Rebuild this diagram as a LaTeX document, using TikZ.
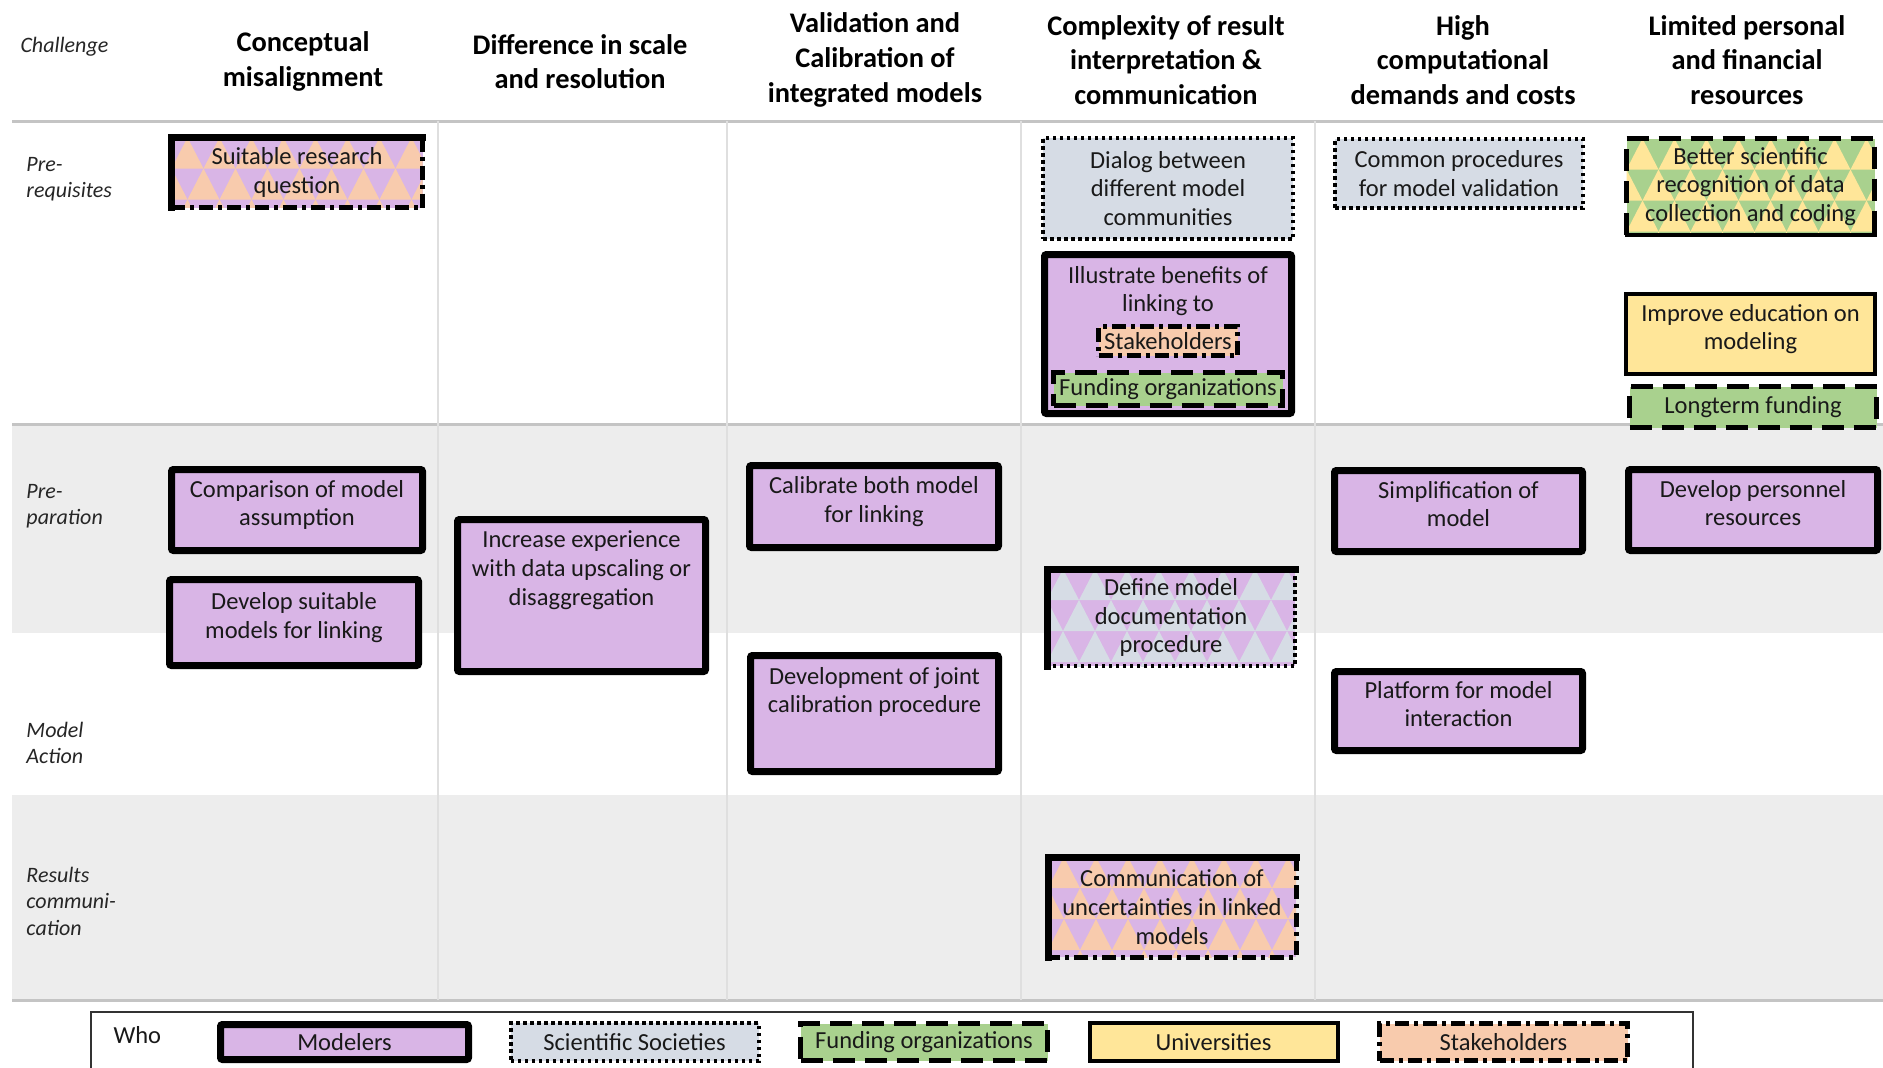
\documentclass[tikz,border=0pt]{standalone}
\usepackage{fontspec}
\setmainfont{Carlito}
\usetikzlibrary{positioning,calc}

\definecolor{modpurple}{HTML}{D9B5E6}
\definecolor{socgray}{HTML}{D6DCE5}
\definecolor{fundgreen}{HTML}{A9D18E}
\definecolor{univyellow}{HTML}{FFE699}
\definecolor{stakepeach}{HTML}{F8CBAD}
\definecolor{bandgray}{HTML}{EDEDED}
\definecolor{rulegray}{HTML}{C4C4C4}

\newcommand{\bodyfont}{\fontsize{24.5}{28.8}\selectfont}
\newcommand{\headfont}{\bfseries\fontsize{28.4}{34.6}\selectfont}
\newcommand{\rowfont}{\itshape\fontsize{22}{26.5}\selectfont}
% pushes the text of a box a little upwards
\newcommand{\lift}{\rule[-14pt]{0pt}{0pt}}

% triangle fill for boxes shared by two groups
\tikzset{tri/.style 2 args={fill=#1, path picture={
  \foreach \r in {0,...,3} \foreach \c in {-1,...,8}
   \fill[#2] ([shift={({\c*32+mod(\r,2)*16},{(\r+1)*31})}]path picture bounding box.north west) -- ++(32,0) -- ++(-16,-31) -- cycle;
}}}

\begin{document}
\begin{tikzpicture}[x=1pt,y=-1pt, line width=1pt
  ]
% Box and line styles
\tikzstyle{box}=[rectangle, outer sep=0pt, inner sep=3pt, align=center, font=\bodyfont, text=black!90]
\tikzstyle{modbase}=[box, draw=black, fill=modpurple, line width=7pt, rounded corners=2pt]
\tikzstyle{modbox}=[modbase, execute at end node=\lift]
\tikzstyle{socbox}=[box, draw=black, fill=socgray, line width=4pt, dash pattern=on 3.5pt off 3.5pt]
\tikzstyle{fundbox}=[box, draw=black, fill=fundgreen, line width=5pt, dash pattern=on 22pt off 10pt]
\tikzstyle{univbox}=[box, draw=black, fill=univyellow, line width=4pt]
\tikzstyle{stakebox}=[box, draw=black, fill=stakepeach, line width=5pt, dash pattern=on 14pt off 5pt on 4pt off 5pt]
\tikzstyle{modline}=[draw=black, line width=7pt, line cap=rect]
\tikzstyle{socline}=[draw=black, line width=4pt, dash pattern=on 3.5pt off 3.5pt]
\tikzstyle{fundline}=[draw=black, line width=5pt, dash pattern=on 22pt off 10pt]
\tikzstyle{univline}=[draw=black, line width=4pt, line cap=rect]
\tikzstyle{stakeline}=[draw=black, line width=5pt, dash pattern=on 14pt off 5pt on 4pt off 5pt]
\tikzstyle{toplbl}=[anchor=north, yshift=-11pt, align=center, font=\bodyfont, inner sep=0pt, text=black!90]
\tikzstyle{headtxt}=[align=center, font=\headfont, text=black]
\tikzstyle{rowtxt}=[anchor=west, align=left, font=\rowfont, text=black!85, inner sep=0pt]

\useasboundingbox (0,0) rectangle (1883,1068);
\fill[white] (0,0) rectangle (1883,1068);

% Background bands and rules
\fill[bandgray] (12,424) rectangle (1883,633);
\fill[bandgray] (12,795) rectangle (1883,1000);
\foreach \y in {121,424,1000}
\draw[rulegray, line width=3pt] (12,\y) -- (1883,\y);
\foreach \x in {438,727,1021,1315}
\draw[gray!25, line width=1.2pt] (\x,121) -- (\x,1000);

% Header
\node[rowtxt] (h0) at (20,47) {Challenge};
\node[headtxt] (h1) at (303,61.5) {Conceptual\\misalignment};
\node[headtxt] (h2) at (580,61.5) {Difference in scale\\and resolution};
\node[headtxt] (h3) at (875,60) {Validation and\\Calibration of\\integrated models};
\node[headtxt] (h4) at (1166,60) {Complexity of result\\interpretation \&\\communication};
\node[headtxt] (h5) at (1463,60) {High\\computational\\demands and costs};
\node[headtxt] (h6) at (1747,60) {Limited personal\\and financial\\resources};

% Row labels
\node[rowtxt] (r1) at (26,179) {Pre-\\requisites};
\node[rowtxt] (r2) at (26,506) {Pre-\\paration};
\node[rowtxt] (r3) at (26,743) {Model\\Action};
\node[rowtxt] (r4) at (26,901) {Results\\communi-\\cation};

% Pre-requisites
\node[box, tri={modpurple}{stakepeach}, minimum width=251, minimum height=70] (srq) at (297,172.5) {Suitable research\\question};
\draw[modline] (srq.south west) -- (srq.north west) -- (srq.north east);
\draw[stakeline] (srq.north east) -- (srq.south east) -- (srq.south west);

\node[socbox, minimum width=250, minimum height=101] (dlg) at (1168,188.5) {Dialog between\\different model\\communities};
\node[modbox, minimum width=247, minimum height=159, below=15.5pt of dlg,
  label={[toplbl]north:{Illustrate benefits of\\linking to}}] (ill) {};
\node[stakebox, minimum width=139, minimum height=29, inner sep=0pt] (stk) at ([yshift=-86.5pt]ill.north) {Stakeholders};
\node[fundbox, minimum width=229, minimum height=33, inner sep=0pt] (fnd) at ([yshift=-134.5pt]ill.north) {Funding organizations};

\node[socbox, minimum width=248, minimum height=69] (cpv) at (1459,173.5) {Common procedures\\for model validation};

\node[box, tri={fundgreen}{univyellow}, minimum width=248, minimum height=96] (bsr) at (1750.5,186.5) {Better scientific\\recognition of data\\collection and coding};
\draw[fundline] (bsr.south west) -- (bsr.north west) -- (bsr.north east) -- (bsr.south east);
\draw[univline] (bsr.south east) -- (bsr.south west);
\node[univbox, minimum width=249, minimum height=80] (iem) at (1750.5,334) {Improve education on\\modeling\lift};
\node[fundbox, minimum width=247, minimum height=41, below=12.5pt of iem, xshift=2.5pt] (ltf) {Longterm funding};

% Preparation
\node[modbox, minimum width=251, minimum height=81] (cma) at (297,510) {Comparison of model\\assumption};
\node[modbox, minimum width=249, minimum height=86, below=29pt of cma, xshift=-3pt] (dsm) {Develop suitable\\models for linking};
\node[modbox, minimum width=248, minimum height=152,
  label={[toplbl]north:{Increase experience\\with data upscaling or\\disaggregation}}] (ied) at (581.5,595.5) {};
\node[modbox, minimum width=249, minimum height=82] (cbm) at (874,506.5) {Calibrate both model\\for linking};
\node[box, tri={modpurple}{socgray}, minimum width=248, minimum height=97] (dmd) at (1171,617.5) {Define model\\documentation\\procedure};
\draw[modline] (dmd.south west) -- (dmd.north west) -- (dmd.north east);
\draw[socline] (dmd.north east) -- (dmd.south east) -- (dmd.south west);
\node[modbox, minimum width=248, minimum height=81] (som) at (1458.5,511) {Simplification of\\model};
\node[modbox, minimum width=249, minimum height=81] (dpr) at (1753,510) {Develop personnel\\resources};

% Model action
\node[modbox, minimum width=248, minimum height=116,
  label={[toplbl]north:{Development of joint\\calibration procedure}}] (djc) at (874.5,713.5) {};
\node[modbox, minimum width=248, minimum height=79] (pmi) at (1458.5,711) {Platform for model\\interaction};

% Results communication
\node[box, tri={modpurple}{stakepeach}, minimum width=248, minimum height=100] (cul) at (1172,907) {Communication of\\uncertainties in linked\\models};
\draw[modline] (cul.south west) -- (cul.north west) -- (cul.north east);
\draw[stakeline] (cul.north east) -- (cul.south east) -- (cul.south west);

% Legend
\draw[black!80, line width=1.5pt] (91,1068) |- (1693,1012) -- (1693,1068);
\node[rowtxt, font=\bodyfont, text=black!90] (who) at (113,1035) {Who};
\node[modbase, minimum width=248, minimum height=35, inner sep=0pt] (lg1) at (344.5,1042) {Modelers};
\node[socbox, minimum width=248, minimum height=38, inner sep=0pt, right=42pt of lg1] (lg2) {Scientific Societies};
\node[fundbox, minimum width=247, minimum height=37, inner sep=0pt, right=42pt of lg2] (lg3) {Funding organizations};
\node[univbox, minimum width=248, minimum height=38, inner sep=0pt, right=42pt of lg3] (lg4) {Universities};
\node[stakebox, minimum width=248, minimum height=37, inner sep=0pt, right=42pt of lg4] (lg5) {Stakeholders};
%---------------------
\end{tikzpicture}
\end{document}
